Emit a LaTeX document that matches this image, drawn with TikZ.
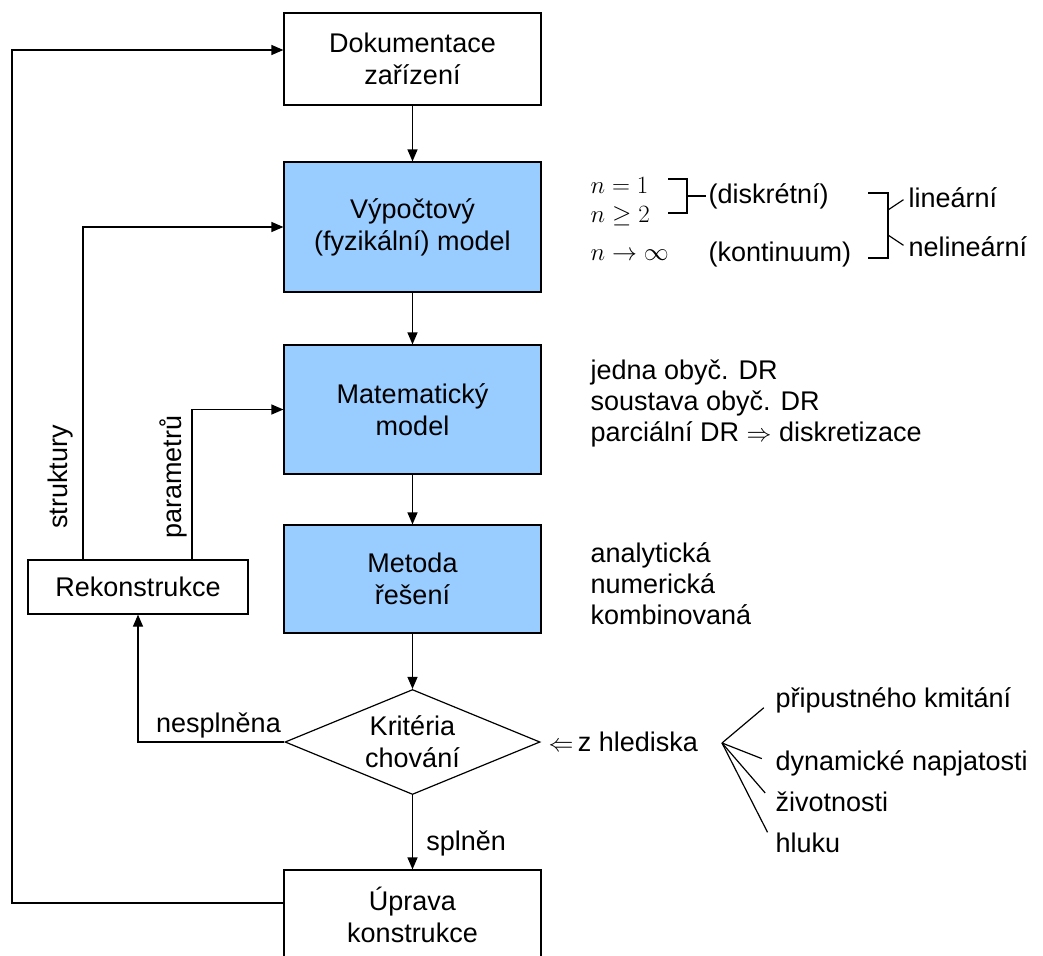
\documentclass[tikz,border=0pt]{standalone}
\usepackage{fontspec}
\setmainfont{Liberation Sans}
\usetikzlibrary{shapes.geometric,arrows.meta}
\definecolor{skyblue}{HTML}{99CCFF}
\begin{document}
\begin{tikzpicture}[x=1pt, y=-1pt, line width=1.2pt,
      font=\fontsize{27}{32}\selectfont,
      box/.style={draw, minimum width=257pt, align=center, inner sep=0pt},
      bluebox/.style={box, fill=skyblue},
      arr/.style={-{Triangle[length=12pt,width=10pt]}},
      txt/.style={anchor=west, align=left, inner sep=2pt, font=\fontsize{27}{31}\selectfont}]
      \useasboundingbox (0,0) rectangle (1043,955);
      \clip (0,0) rectangle (1043,955);
      % main column
      \node[box, minimum height=92pt] (doku) at (412.5,59) {Dokumentace\\zařízení};
      \node[bluebox, minimum height=130pt] (vypoc) at (412.5,227) {Výpočtový\\(fyzikální) model};
      \node[bluebox, minimum height=129pt] (mat) at (412.5,409.5) {Matematický\\model};
      \node[bluebox, minimum height=108pt] (met) at (412.5,579) {Metoda\\řešení};
      \node[draw, diamond, aspect=2.4, inner sep=0pt, minimum width=255pt, minimum height=105pt, align=center] (krit) at (412.5,742) {Kritéria\\chování};
      \node[box, minimum height=90pt] (upr) at (412.5,915) {Úprava\\konstrukce};
      \node[box, minimum width=220pt, minimum height=54pt] (rek) at (138,587) {Rekonstrukce};
      \draw[arr] (doku) -- (vypoc);
      \draw[arr] (vypoc) -- (mat);
      \draw[arr] (mat) -- (met);
      \draw[arr] (met) -- (krit);
      \draw[arr] (krit) -- (upr) node[pos=0.65, anchor=west, xshift=10pt] (spl) {splněn};
      \draw[arr] (krit.west) -| (rek.south) node[pos=0, above left, inner sep=3pt] (nespl) {nesplněna};
      \draw[arr] ([xshift=-55pt]rek.north) |- (vypoc.west);
      \draw[arr] ([xshift=54pt]rek.north) |- (mat.west);
      \node[rotate=90] (strk) at (61,477) {struktury};
      \node[rotate=90] (param) at (173,477) {parametrů};
      \coordinate (c1) at (12,903);
      \coordinate (c2) at (12,50);
      \draw[arr] ([yshift=12pt]upr.west) -- (c1) -- (c2) -- (doku.west |- c2);
      % model types
      \node[txt] (n1) at (588,185) {$n=1$};
      \node[txt] (n2) at (588,216) {$n\geq2$};
      \node[txt] (ninf) at (588,255) {$n\to\infty$};
      \node[txt] (disk) at (706,196) {(diskrétní)};
      \node[txt] (kont) at (706,255) {(kontinuum)};
      \node[txt] (lin) at (906,198) {lineární};
      \node[txt] (nelin) at (906,247) {nelineární};
      \coordinate (b1) at (687,196);
      \coordinate (b2) at (888,225);
      \draw (668,179) -| (b1) |- (668,213);
      \draw (b1) -- (disk.west);
      \draw (868,193) -| (b2) |- (868,258);
      \draw[shorten >=3pt] (888,210) -- (lin.west);
      \draw[shorten >=3pt] (888,235) -- (nelin.west);
      % equations, methods
      \node[txt] (dr) at (588,403) {jedna obyč. DR\\soustava obyč. DR\\parciální DR $\Rightarrow$ diskretizace};
      \node[txt] (meth) at (588,584) {analytická\\numerická\\kombinovaná};
      % criteria
      \node[txt] (hled) at (546,742) {$\Leftarrow$\,z hlediska};
      \coordinate (fan) at (722,743);
      \node[txt] (prip) at (773,700) {připustného kmitání};
      \node[txt] (dyn) at (773,763) {dynamické napjatosti};
      \node[txt] (ziv) at (773,802) {životnosti};
      \node[txt] (hluk) at (773,843) {hluku};
      \foreach \t in {prip,dyn,ziv,hluk}
        \draw[shorten >=12pt] (fan) -- (\t.west);
\end{tikzpicture}
\end{document}
